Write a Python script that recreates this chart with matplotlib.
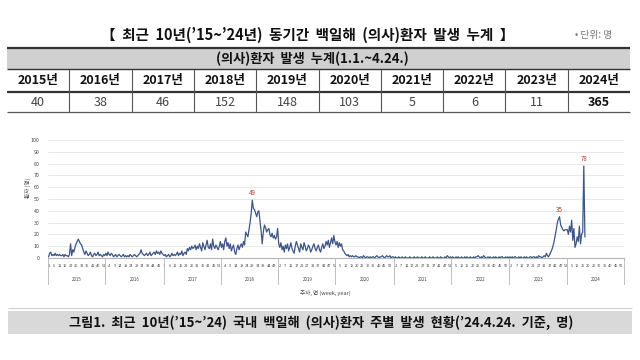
import numpy as np
import matplotlib
matplotlib.use("Agg")
import matplotlib.pyplot as plt
from matplotlib.patches import Rectangle

# --- palette ---
INK = "#111111"
INK2 = "#444444"
MUTED = "#777777"
HDR = "#d0d0d0"
BAND = "#d9d9d9"
GRID = "#e4e4e4"
AXIS = "#b5b5b5"
LINE = "#3d5588"
RED = "#c0392b"

plt.rcParams["font.family"] = ["Noto Sans CJK KR", "DejaVu Sans"]

# --- data ---
YEARS = [2015, 2016, 2017, 2018, 2019, 2020, 2021, 2022, 2023, 2024]
TOTALS = [40, 38, 46, 152, 148, 103, 5, 6, 11, 365]
WEEKS_IN_YEAR = [52, 53, 52, 52, 52, 53, 52, 53, 52, 52]

W2015 = [1, 4, 5, 2, 3, 2, 4, 2, 3, 2,
         3, 2, 2, 3, 1, 3, 2, 2, 1, 3,
         12, 2, 7, 5, 9, 12, 14, 16, 14, 12,
         11, 8, 5, 3, 6, 4, 2, 3, 5, 2,
         1, 3, 4, 2, 3, 5, 2, 3, 2, 1, 3, 2]
W2016 = [4, 2, 5, 3, 2, 4, 3, 1, 2, 3,
         1, 2, 3, 2, 1, 2, 3, 1, 2, 1,
         2, 1, 3, 2, 1, 2, 3, 2, 1, 2,
         3, 4, 7, 4, 3, 2, 3, 4, 2, 3,
         5, 2, 3, 4, 5, 3, 6, 4, 5, 3, 6, 4, 3]
W2017 = [2, 3, 1, 2, 3, 1, 2, 4, 2, 3,
         2, 3, 5, 2, 4, 3, 6, 2, 4, 5,
         3, 8, 6, 9, 7, 10, 8, 9, 11, 7,
         10, 8, 12, 9, 6, 13, 10, 7, 11, 15,
         9, 8, 12, 7, 16, 10, 8, 11, 9, 7, 10, 14]
W2018 = [9, 12, 7, 14, 17, 10, 13, 8, 12, 6,
         9, 11, 5, 3, 8, 11, 7, 10, 12, 9,
         14, 11, 22, 20, 18, 24, 30, 38, 49, 42,
         41, 38, 35, 39, 40, 31, 23, 12, 22, 28,
         26, 22, 24, 25, 20, 18, 21, 17, 19, 16, 18, 25]
W2019 = [12, 9, 13, 7, 10, 5, 11, 8, 12, 6,
         9, 13, 8, 6, 4, 10, 14, 11, 8, 5,
         12, 9, 7, 13, 10, 6, 8, 11, 9, 5,
         7, 10, 12, 8, 6, 9, 11, 7, 5, 9,
         12, 8, 10, 14, 11, 15, 9, 13, 17, 12, 19, 14]
W2020 = [11, 14, 9, 13, 10, 12, 7, 6, 4, 3,
         2, 3, 1, 2, 1, 2, 1, 1, 2, 1,
         1, 0, 1, 1, 0, 2, 1, 0, 1, 1,
         0, 1, 0, 1, 1, 0, 1, 2, 1, 0,
         1, 1, 2, 1, 0, 1, 2, 1, 1, 2, 0, 1, 1]
W2021 = [0, 1, 0, 0, 1, 0, 0, 1, 0, 0,
         1, 0, 0, 0, 1, 0, 0, 0, 1, 0,
         0, 1, 0, 0, 0, 1, 0, 0, 1, 0,
         0, 0, 1, 0, 0, 1, 0, 0, 0, 1,
         0, 0, 1, 0, 0, 0, 1, 0, 2, 1, 0, 1]
W2022 = [0, 1, 0, 0, 1, 0, 1, 0, 0, 1,
         0, 0, 1, 0, 1, 0, 0, 1, 0, 0,
         1, 0, 1, 1, 2, 1, 0, 1, 0, 2,
         1, 0, 0, 1, 0, 1, 0, 0, 1, 0,
         1, 0, 0, 1, 0, 1, 1, 0, 0, 1, 0, 1, 0]
W2023 = [1, 0, 1, 0, 1, 1, 0, 0, 1, 0,
         1, 0, 0, 1, 0, 1, 0, 0, 1, 1,
         0, 1, 1, 0, 1, 0, 2, 1, 1, 0,
         1, 2, 1, 4, 2, 1, 3, 5, 7, 10,
         14, 19, 24, 30, 33, 35, 28, 26, 24, 23, 24, 24]
W2024 = [24, 20, 27, 22, 32, 15, 25, 9, 12, 18,
         14, 27, 12, 20, 22, 78, 18]
WEEKLY = [W2015, W2016, W2017, W2018, W2019, W2020, W2021, W2022, W2023, W2024]
LABEL_YEARS = [2018, 2023, 2024]

TITLE = "【  최근  10년(’15~’24년)  동기간  백일해  (의사)환자  발생  누계  】"
UNIT = "• 단위: 명"
TABLE_HEAD = "(의사)환자  발생  누계(1.1.~4.24.)"
CAPTION = "그림1.  최근  10년(’15~’24)  국내  백일해  (의사)환자  주별  발생  현황(’24.4.24.  기준,  명)"


def px(fig_ax, x, y, s, **kw):
    fig_ax.text(x, y, s, ha="center", va="center", **kw)


fig = plt.figure(figsize=(6.4, 3.6), dpi=100)
fig.patch.set_facecolor("white")

# overlay in pixel coordinates for title, table and caption
bg = fig.add_axes([0, 0, 1, 1])
bg.set_xlim(0, 640); bg.set_ylim(360, 0); bg.axis("off")

px(bg, 308, 35, TITLE, fontsize=10.5, fontweight="bold", color=INK)
px(bg, 594, 35, UNIT, fontsize=7, color=MUTED)

x0, x1 = 7, 630
cw = (x1 - x0) / len(YEARS)
bg.add_patch(Rectangle((x0, 48), x1 - x0, 21, color=HDR, lw=0))
px(bg, 312, 58.5, TABLE_HEAD, fontsize=9.5, fontweight="bold", color=INK)
bg.hlines(48, x0, x1, color="#333333", lw=1.6)
bg.hlines(69, x0, x1, color="#333333", lw=1.0)
bg.hlines(92, x0, x1, color="#333333", lw=1.6)
bg.hlines(112, x0, x1, color="#555555", lw=0.9)
for i, (yr, tot) in enumerate(zip(YEARS, TOTALS)):
    cx = x0 + cw * (i + 0.5)
    px(bg, cx, 80.5, f"{yr}년", fontsize=9, fontweight="bold", color=INK)
    bold = "bold" if yr == YEARS[-1] else "normal"
    px(bg, cx, 102, str(tot), fontsize=9, fontweight=bold,
       color=INK if bold == "bold" else INK2)
    if i > 0:
        bg.vlines(x0 + cw * i, 69, 112, color="#555555", lw=0.8)

# caption band
bg.hlines(308, 8, 632, color="#cfcfcf", lw=0.8)
bg.add_patch(Rectangle((8, 311), 624, 23, color=BAND, lw=0))
px(bg, 321, 322.5, CAPTION, fontsize=9.5, fontweight="bold", color=INK)

# --- weekly line chart ---
ax = fig.add_axes([48 / 640, 1 - 258 / 360, 576 / 640, 118 / 360])
ax.set_facecolor("none")
starts = np.concatenate([[0], np.cumsum(WEEKS_IN_YEAR)[:-1]])
total_weeks = int(np.sum(WEEKS_IN_YEAR))

xs = np.concatenate([st + np.arange(len(v)) for st, v in zip(starts, WEEKLY)])
ys = np.concatenate([np.array(v, dtype=float) for v in WEEKLY])
ax.plot(xs, ys, color=LINE, lw=0.9, zorder=3)

for yr in LABEL_YEARS:
    i = YEARS.index(yr)
    v = np.array(WEEKLY[i])
    k = int(np.argmax(v))
    ax.text(starts[i] + k, v[k] + 6, str(v[k]), ha="center", va="center",
            fontsize=4.5, color=RED)

ax.set_xlim(-0.5, total_weeks - 0.5)
ax.set_ylim(0, 100)
ax.set_yticks(np.arange(0, 101, 10))
ax.yaxis.grid(True, color=GRID, lw=0.6, zorder=0)
ax.set_axisbelow(True)
for s in ("top", "right", "left"):
    ax.spines[s].set_visible(False)
ax.spines["bottom"].set_color(AXIS)
ax.spines["bottom"].set_linewidth(0.8)
ax.tick_params(axis="y", length=0, labelsize=3.8, labelcolor=INK2, pad=6)

# week ticks every 5 categories, labelled with week-of-year
tick_idx = np.arange(0, total_weeks, 5)
year_of = np.searchsorted(starts, tick_idx, side="right") - 1
ax.set_xticks(tick_idx)
ax.set_xticklabels([str(t - starts[y] + 1) for t, y in zip(tick_idx, year_of)])
ax.tick_params(axis="x", length=0, labelsize=2.8, labelcolor=INK2, pad=4)

tr = ax.get_xaxis_transform()
for i, yr in enumerate(YEARS):
    ax.plot([starts[i] - 0.5] * 2, [0, -0.22], transform=tr, color=AXIS,
            lw=0.6, clip_on=False)
    ax.text(starts[i] + WEEKS_IN_YEAR[i] / 2, -0.18, str(yr), transform=tr,
            ha="center", va="center", fontsize=3.2, color=INK2)
ax.plot([total_weeks - 0.5] * 2, [0, -0.22], transform=tr, color=AXIS,
        lw=0.6, clip_on=False)

fig.text(28 / 640, 1 - 188 / 360, "환자 (명)", rotation=90, ha="center",
         va="center", fontsize=4, color=INK2)
fig.text(325 / 640, 1 - 293 / 360, "주차, 연 (week, year)", ha="center",
         va="center", fontsize=4, color=INK2)

fig.savefig("out.png", dpi=100, facecolor="white")
